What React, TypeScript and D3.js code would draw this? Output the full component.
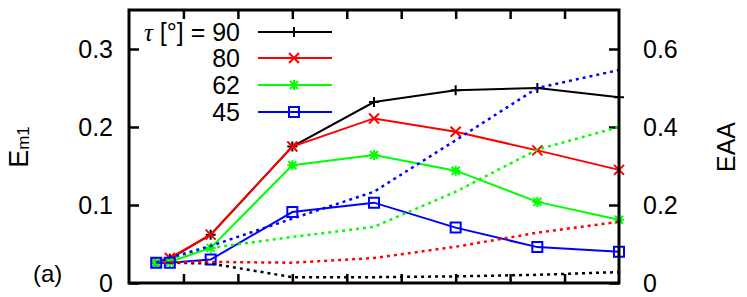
import * as d3 from "d3";
import { useEffect, useRef } from "react";

// x positions of the runs (no tick labels shown on x)
const xVals = [0.5, 0.75, 1.5, 3, 4.5, 6, 7.5, 9];
const xTicks = [1, 2, 3, 4, 5, 6, 7, 8];
const leftTicks = [0, 0.1, 0.2, 0.3];
const rightTicks = [0, 0.2, 0.4, 0.6];

const tauLabels = ["90", "80", "62", "45"];
const colors = ["#000000", "#ff0000", "#00ff00", "#0000ff"];
const markers = ["plus", "cross", "star", "square"];

// E_m1 (left axis), solid lines
const em1_90 = [0.026, 0.031, 0.062, 0.175, 0.232, 0.247, 0.25, 0.238];
const em1_80 = [0.026, 0.032, 0.062, 0.175, 0.211, 0.194, 0.17, 0.145];
const em1_62 = [0.026, 0.027, 0.045, 0.151, 0.164, 0.144, 0.104, 0.081];
const em1_45 = [0.026, 0.026, 0.03, 0.091, 0.103, 0.071, 0.046, 0.04];

// EAA (right axis), dotted lines
const eaa_90 = [0.052, 0.052, 0.05, 0.015, 0.015, 0.017, 0.021, 0.028];
const eaa_80 = [0.052, 0.053, 0.054, 0.052, 0.064, 0.093, 0.129, 0.157];
const eaa_62 = [0.052, 0.062, 0.09, 0.118, 0.144, 0.234, 0.342, 0.4];
const eaa_45 = [0.052, 0.065, 0.095, 0.165, 0.234, 0.366, 0.5, 0.546];

const em1Series = [em1_90, em1_80, em1_62, em1_45];
const eaaSeries = [eaa_90, eaa_80, eaa_62, eaa_45];

const FONT = "'Liberation Sans', Arial, Helvetica, sans-serif";

function markerPath(kind: string) {
    const s = 5;
    if (kind === "plus") return `M${-s},0H${s}M0,${-s}V${s}`;
    if (kind === "cross") return `M${-s},${-s}L${s},${s}M${-s},${s}L${s},${-s}`;
    if (kind === "star")
        return `M${-s},0H${s}M0,${-s}V${s}M${-4},${-4}L4,4M-4,4L4,-4`;
    return `M${-s},${-s}H${s}V${s}H${-s}Z`;
}

export default function App() {
    const ref = useRef<SVGSVGElement>(null);

    useEffect(() => {
        const svg = d3.select(ref.current);
        svg.selectAll("*").remove();

        const left = 129, right = 619, top = 10, bottom = 283;

        const X = d3.scaleLinear().domain([0, 9]).range([left, right]);
        const YL = d3.scaleLinear().domain([0, 0.35]).range([bottom, top]);
        const YR = d3.scaleLinear().domain([0, 0.7]).range([bottom, top]);

        //    ---------------   AXES  ------------------------

        const fmt = (d: any) => (d === 0 ? "0" : d3.format(".1f")(d));

        svg.append("g")
            .attr("transform", `translate(${left},0)`)
            .call(d3.axisLeft(YL).tickValues(leftTicks).tickSizeInner(-10).tickSizeOuter(0).tickPadding(16).tickFormat(fmt));

        svg.append("g")
            .attr("transform", `translate(${right},0)`)
            .call(d3.axisRight(YR).tickValues(rightTicks).tickSizeInner(-10).tickSizeOuter(0).tickPadding(24).tickFormat(fmt));

        svg.append("g")
            .attr("transform", `translate(0,${bottom})`)
            .call(d3.axisBottom(X).tickValues(xTicks).tickSizeInner(-9).tickSizeOuter(0).tickFormat(() => ""));

        svg.append("g")
            .attr("transform", `translate(0,${top})`)
            .call(d3.axisTop(X).tickValues(xTicks).tickSizeInner(-9).tickSizeOuter(0).tickFormat(() => ""));

        svg.selectAll(".domain").remove();
        svg.selectAll(".tick line").attr("stroke", "#000").attr("stroke-width", 2.5);
        svg.selectAll(".tick text")
            .attr("font-family", FONT)
            .attr("font-size", 25)
            .attr("fill", "#000");

        //    ---------------   LINES  ------------------------

        const lineL = d3.line<number>().x((d, i) => X(xVals[i])).y((d) => YL(d));
        const lineR = d3.line<number>().x((d, i) => X(xVals[i])).y((d) => YR(d));

        em1Series.forEach((vals, k) => {
            svg.append("path")
                .attr("d", lineL(vals))
                .attr("fill", "none")
                .attr("stroke", colors[k])
                .attr("stroke-width", 2);

            svg.append("g")
                .selectAll("path")
                .data(vals)
                .join("path")
                .attr("transform", (d, i) => `translate(${X(xVals[i])},${YL(d)})`)
                .attr("d", markerPath(markers[k]))
                .attr("fill", "none")
                .attr("stroke", colors[k])
                .attr("stroke-width", 2);
        });

        eaaSeries.forEach((vals, k) => {
            svg.append("path")
                .attr("d", lineR(vals))
                .attr("fill", "none")
                .attr("stroke", colors[k])
                .attr("stroke-width", 2.5)
                .attr("stroke-dasharray", "3,4");
        });

        // border
        svg.append("rect")
            .attr("x", left).attr("y", top)
            .attr("width", right - left).attr("height", bottom - top)
            .attr("fill", "none").attr("stroke", "#000").attr("stroke-width", 3);

        //    ---------------   LEGEND  ------------------------

        const legY = [32, 58, 85, 112];
        tauLabels.forEach((lab, k) => {
            const t = svg.append("text")
                .attr("x", 240).attr("y", legY[k] + 9)
                .attr("text-anchor", "end")
                .attr("font-family", FONT).attr("font-size", 25);
            if (k === 0) {
                t.append("tspan").attr("font-style", "italic").attr("font-family", "'Liberation Serif', 'DejaVu Serif', serif").text("τ");
                t.append("tspan").text(" [°] = " + lab);
            } else {
                t.text(lab);
            }
            svg.append("line")
                .attr("x1", 258).attr("x2", 332)
                .attr("y1", legY[k]).attr("y2", legY[k])
                .attr("stroke", colors[k]).attr("stroke-width", 2);
            svg.append("path")
                .attr("transform", `translate(294,${legY[k]})`)
                .attr("d", markerPath(markers[k]))
                .attr("fill", "none").attr("stroke", colors[k]).attr("stroke-width", 2);
        });

        //    ---------------   LABELS  ------------------------

        const yl = svg.append("text")
            .attr("transform", "translate(28,147) rotate(-90)")
            .attr("text-anchor", "middle")
            .attr("font-family", FONT).attr("font-size", 27);
        yl.append("tspan").text("E");
        yl.append("tspan").attr("font-size", 17).attr("dy", 1).text("m1");

        svg.append("text")
            .attr("transform", "translate(735,147) rotate(-90)")
            .attr("text-anchor", "middle")
            .attr("font-family", FONT).attr("font-size", 25)
            .text("EAA");

        svg.append("text")
            .attr("x", 33).attr("y", 282)
            .attr("font-family", FONT).attr("font-size", 24)
            .text("(a)");
    }, []);

    return (
        <svg
            ref={ref}
            width={747}
            height={297}
            style={{ position: "absolute", left: 0, top: 0, background: "#fff" }}
        />
    );
}
